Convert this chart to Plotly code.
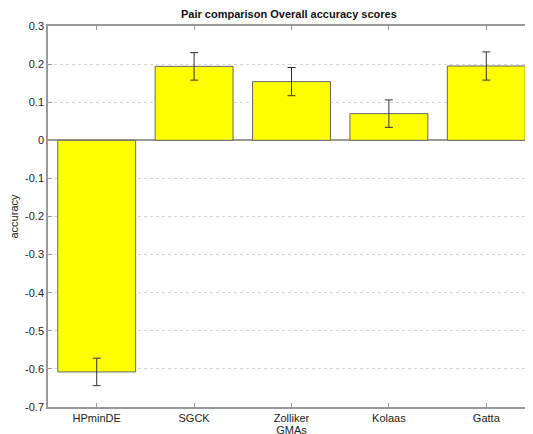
import plotly.graph_objects as go

categories = ["HPminDE", "SGCK", "Zolliker", "Kolaas", "Gatta"]
accuracy = [-0.608, 0.194, 0.154, 0.070, 0.195]
errors = [0.036, 0.036, 0.037, 0.036, 0.037]
y_ticks = [0.3, 0.2, 0.1, 0, -0.1, -0.2, -0.3, -0.4, -0.5, -0.6, -0.7]
y_tick_labels = ["0.3", "0.2", "0.1", "0", "-0.1", "-0.2", "-0.3", "-0.4", "-0.5", "-0.6", "-0.7"]

x_pos = list(range(1, len(categories) + 1))

fig = go.Figure()
fig.add_trace(go.Bar(
    x=x_pos, y=accuracy, width=0.8,
    marker=dict(color="#FFFF00", line=dict(color="#666666", width=1)),
    error_y=dict(type="data", array=errors, visible=True, color="#333333", thickness=1, width=4),
))

font = dict(family="Arial, Liberation Sans, sans-serif", size=11, color="#222222")
fig.update_layout(
    width=533, height=434,
    margin=dict(l=40, r=6, t=18, b=35),
    paper_bgcolor="white", plot_bgcolor="white",
    showlegend=False,
    font=font,
    title=dict(text="<b>Pair comparison Overall accuracy scores</b>", x=0.527, xanchor="center",
               y=0.986, yanchor="middle", font=dict(size=11, color="#111111")),
    xaxis=dict(
        range=[0.5, 5.5], tickmode="array", tickvals=x_pos, ticktext=categories,
        showline=True, linecolor="#999999", linewidth=1.5, mirror="ticks",
        ticks="inside", ticklen=4, tickcolor="#999999", showgrid=False, zeroline=False,
        title=dict(text="GMAs", standoff=0, font=dict(size=11)),
    ),
    yaxis=dict(
        range=[-0.7, 0.3], tickmode="array", tickvals=y_ticks, ticktext=y_tick_labels,
        showline=True, linecolor="#999999", linewidth=1.5,
        ticks="inside", ticklen=4, tickcolor="#999999",
        showgrid=True, gridcolor="#d4d4d4", griddash="dot", gridwidth=1,
        zeroline=True, zerolinecolor="#999999", zerolinewidth=1.5,
        title=dict(text="accuracy", standoff=4, font=dict(size=11)),
    ),
)

fig.write_html("out.html")
